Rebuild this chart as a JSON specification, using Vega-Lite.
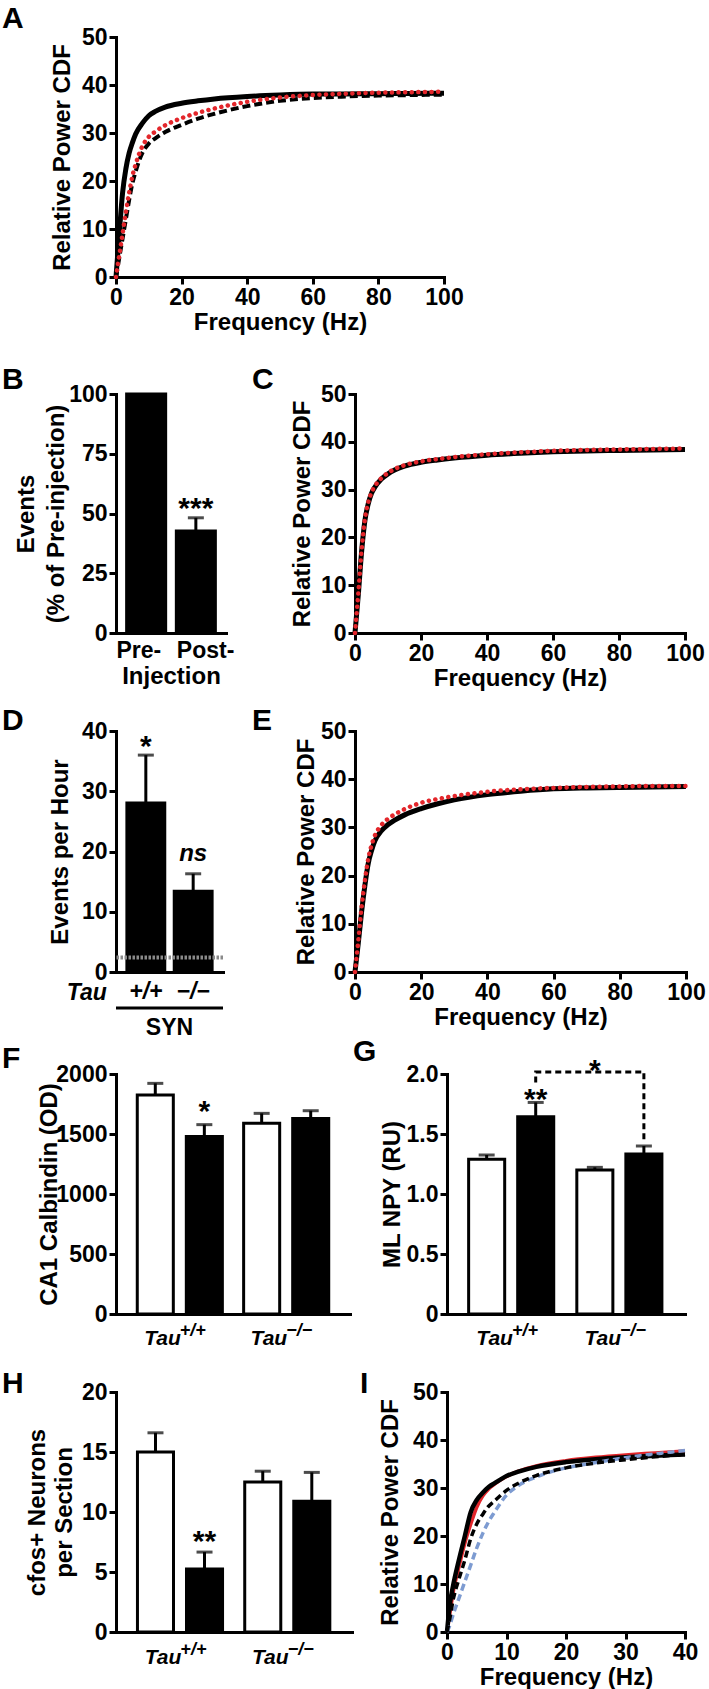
{
  "$schema": "https://vega.github.io/schema/vega-lite/v6.json",
  "background": "white",
  "padding": {"left": 2, "top": 4, "right": 2, "bottom": 2},
  "config": {
    "view": {"stroke": null},
    "font": "Liberation Sans",
    "axis": {"labelFont": "Liberation Sans", "labelFontWeight": "bold", "labelFontSize": 23, "labelColor": "black", "titleFont": "Liberation Sans", "titleFontWeight": "bold", "titleFontSize": 24, "titleColor": "black", "domainColor": "black", "domainWidth": 3, "domainCap": "square", "tickColor": "black", "tickWidth": 3, "tickSize": 7, "grid": false, "labelPadding": 2, "labelFlush": false, "labelOverlap": false},
    "title": {"anchor": "start", "frame": "group", "font": "Liberation Sans", "fontSize": 30, "fontWeight": "bold", "color": "black", "offset": 0, "baseline": "alphabetic"},
    "text": {"font": "Liberation Sans", "fontWeight": "bold", "color": "black"}
  },
  "datasets": {
    "cdfA": [
      {"s":"solid","f":0,"v":0},{"s":"solid","f":1,"v":9},{"s":"solid","f":2,"v":17.5},{"s":"solid","f":3,"v":22.5},{"s":"solid","f":4,"v":25.8},{"s":"solid","f":5,"v":28},{"s":"solid","f":6,"v":29.8},{"s":"solid","f":8,"v":32},{"s":"solid","f":10,"v":33.6},{"s":"solid","f":12,"v":34.5},{"s":"solid","f":15,"v":35.4},{"s":"solid","f":20,"v":36.2},{"s":"solid","f":25,"v":36.7},{"s":"solid","f":30,"v":37.1},{"s":"solid","f":40,"v":37.6},{"s":"solid","f":50,"v":37.9},{"s":"solid","f":60,"v":38.1},{"s":"solid","f":70,"v":38.15},{"s":"solid","f":80,"v":38.2},{"s":"solid","f":90,"v":38.25},{"s":"solid","f":100,"v":38.3},
      {"s":"dashed","f":0,"v":0},{"s":"dashed","f":1,"v":4},{"s":"dashed","f":2,"v":8},{"s":"dashed","f":3,"v":12},{"s":"dashed","f":4,"v":16},{"s":"dashed","f":5,"v":19.5},{"s":"dashed","f":6,"v":22},{"s":"dashed","f":8,"v":25.8},{"s":"dashed","f":10,"v":27.8},{"s":"dashed","f":12,"v":28.9},{"s":"dashed","f":15,"v":30.2},{"s":"dashed","f":20,"v":31.7},{"s":"dashed","f":25,"v":33},{"s":"dashed","f":30,"v":34},{"s":"dashed","f":40,"v":35.6},{"s":"dashed","f":50,"v":36.7},{"s":"dashed","f":60,"v":37.3},{"s":"dashed","f":70,"v":37.6},{"s":"dashed","f":80,"v":37.8},{"s":"dashed","f":90,"v":37.9},{"s":"dashed","f":100,"v":38},
      {"s":"dotted","f":0,"v":0},{"s":"dotted","f":1,"v":4.5},{"s":"dotted","f":2,"v":9},{"s":"dotted","f":3,"v":13.5},{"s":"dotted","f":4,"v":17.5},{"s":"dotted","f":5,"v":21},{"s":"dotted","f":6,"v":23.5},{"s":"dotted","f":8,"v":27.2},{"s":"dotted","f":10,"v":29.2},{"s":"dotted","f":12,"v":30.3},{"s":"dotted","f":15,"v":31.6},{"s":"dotted","f":20,"v":33.1},{"s":"dotted","f":25,"v":34.2},{"s":"dotted","f":30,"v":35.1},{"s":"dotted","f":40,"v":36.5},{"s":"dotted","f":50,"v":37.4},{"s":"dotted","f":60,"v":37.9},{"s":"dotted","f":70,"v":38.2},{"s":"dotted","f":80,"v":38.4},{"s":"dotted","f":90,"v":38.5},{"s":"dotted","f":100,"v":38.6}
    ],
    "cdfC": [
      {"s":"solid","f":0,"v":0},{"s":"solid","f":1,"v":8},{"s":"solid","f":2,"v":17},{"s":"solid","f":3,"v":23.5},{"s":"solid","f":4,"v":27},{"s":"solid","f":5,"v":29.2},{"s":"solid","f":6,"v":30.5},{"s":"solid","f":8,"v":32.2},{"s":"solid","f":10,"v":33.3},{"s":"solid","f":12,"v":34.1},{"s":"solid","f":15,"v":34.9},{"s":"solid","f":20,"v":35.7},{"s":"solid","f":25,"v":36.2},{"s":"solid","f":30,"v":36.6},{"s":"solid","f":40,"v":37.2},{"s":"solid","f":50,"v":37.6},{"s":"solid","f":60,"v":37.9},{"s":"solid","f":70,"v":38.1},{"s":"solid","f":80,"v":38.2},{"s":"solid","f":90,"v":38.3},{"s":"solid","f":100,"v":38.4},
      {"s":"dotted","f":0,"v":0},{"s":"dotted","f":1,"v":8.3},{"s":"dotted","f":2,"v":17.3},{"s":"dotted","f":3,"v":23.8},{"s":"dotted","f":4,"v":27.3},{"s":"dotted","f":5,"v":29.4},{"s":"dotted","f":6,"v":30.7},{"s":"dotted","f":8,"v":32.4},{"s":"dotted","f":10,"v":33.5},{"s":"dotted","f":12,"v":34.3},{"s":"dotted","f":15,"v":35.1},{"s":"dotted","f":20,"v":35.9},{"s":"dotted","f":25,"v":36.4},{"s":"dotted","f":30,"v":36.8},{"s":"dotted","f":40,"v":37.4},{"s":"dotted","f":50,"v":37.8},{"s":"dotted","f":60,"v":38.1},{"s":"dotted","f":70,"v":38.3},{"s":"dotted","f":80,"v":38.4},{"s":"dotted","f":90,"v":38.5},{"s":"dotted","f":100,"v":38.6}
    ],
    "cdfE": [
      {"s":"solid","f":0,"v":0},{"s":"solid","f":1,"v":6},{"s":"solid","f":2,"v":12.5},{"s":"solid","f":3,"v":18},{"s":"solid","f":4,"v":22.5},{"s":"solid","f":5,"v":25.2},{"s":"solid","f":6,"v":27.2},{"s":"solid","f":8,"v":29.3},{"s":"solid","f":10,"v":30.6},{"s":"solid","f":12,"v":31.5},{"s":"solid","f":15,"v":32.6},{"s":"solid","f":20,"v":33.9},{"s":"solid","f":25,"v":34.9},{"s":"solid","f":30,"v":35.7},{"s":"solid","f":40,"v":36.8},{"s":"solid","f":50,"v":37.5},{"s":"solid","f":60,"v":38},{"s":"solid","f":70,"v":38.2},{"s":"solid","f":80,"v":38.3},{"s":"solid","f":90,"v":38.4},{"s":"solid","f":100,"v":38.5},
      {"s":"dotted","f":0,"v":0},{"s":"dotted","f":1,"v":6.5},{"s":"dotted","f":2,"v":13.5},{"s":"dotted","f":3,"v":19},{"s":"dotted","f":4,"v":23.5},{"s":"dotted","f":5,"v":26.3},{"s":"dotted","f":6,"v":28.3},{"s":"dotted","f":8,"v":30.5},{"s":"dotted","f":10,"v":31.8},{"s":"dotted","f":12,"v":32.7},{"s":"dotted","f":15,"v":33.8},{"s":"dotted","f":20,"v":35.1},{"s":"dotted","f":25,"v":35.9},{"s":"dotted","f":30,"v":36.5},{"s":"dotted","f":40,"v":37.4},{"s":"dotted","f":50,"v":37.9},{"s":"dotted","f":60,"v":38.2},{"s":"dotted","f":70,"v":38.4},{"s":"dotted","f":80,"v":38.5},{"s":"dotted","f":90,"v":38.6},{"s":"dotted","f":100,"v":38.6}
    ],
    "cdfI": [
      {"s":"black","f":0,"v":0},{"s":"black","f":0.5,"v":6},{"s":"black","f":1,"v":9.5},{"s":"black","f":2,"v":15},{"s":"black","f":3,"v":20},{"s":"black","f":4,"v":25},{"s":"black","f":5,"v":27.5},{"s":"black","f":6,"v":29},{"s":"black","f":7,"v":30.2},{"s":"black","f":8,"v":31},{"s":"black","f":10,"v":32.5},{"s":"black","f":12,"v":33.4},{"s":"black","f":15,"v":34.4},{"s":"black","f":20,"v":35.4},{"s":"black","f":25,"v":36},{"s":"black","f":30,"v":36.4},{"s":"black","f":35,"v":36.7},{"s":"black","f":40,"v":37},
      {"s":"red","f":0,"v":0},{"s":"red","f":0.5,"v":4},{"s":"red","f":1,"v":8},{"s":"red","f":2,"v":13.5},{"s":"red","f":3,"v":18.5},{"s":"red","f":4,"v":22.5},{"s":"red","f":5,"v":26},{"s":"red","f":6,"v":28.3},{"s":"red","f":7,"v":29.8},{"s":"red","f":8,"v":30.8},{"s":"red","f":10,"v":32.4},{"s":"red","f":12,"v":33.5},{"s":"red","f":15,"v":34.6},{"s":"red","f":20,"v":35.7},{"s":"red","f":25,"v":36.4},{"s":"red","f":30,"v":36.9},{"s":"red","f":35,"v":37.3},{"s":"red","f":40,"v":37.7},
      {"s":"blackdash","f":0,"v":0},{"s":"blackdash","f":0.5,"v":3},{"s":"blackdash","f":1,"v":6.5},{"s":"blackdash","f":2,"v":11},{"s":"blackdash","f":3,"v":15},{"s":"blackdash","f":4,"v":19.5},{"s":"blackdash","f":5,"v":22.5},{"s":"blackdash","f":6,"v":24.5},{"s":"blackdash","f":7,"v":26.2},{"s":"blackdash","f":8,"v":27.3},{"s":"blackdash","f":10,"v":29.5},{"s":"blackdash","f":12,"v":31},{"s":"blackdash","f":15,"v":32.6},{"s":"blackdash","f":20,"v":34.2},{"s":"blackdash","f":25,"v":35.2},{"s":"blackdash","f":30,"v":35.9},{"s":"blackdash","f":35,"v":36.5},{"s":"blackdash","f":40,"v":37},
      {"s":"bluedash","f":0,"v":0},{"s":"bluedash","f":0.5,"v":1.5},{"s":"bluedash","f":1,"v":3.5},{"s":"bluedash","f":2,"v":7},{"s":"bluedash","f":3,"v":10.5},{"s":"bluedash","f":4,"v":14},{"s":"bluedash","f":5,"v":17.5},{"s":"bluedash","f":6,"v":20.5},{"s":"bluedash","f":7,"v":23},{"s":"bluedash","f":8,"v":25},{"s":"bluedash","f":10,"v":28.5},{"s":"bluedash","f":12,"v":30.5},{"s":"bluedash","f":15,"v":32.3},{"s":"bluedash","f":20,"v":34.2},{"s":"bluedash","f":25,"v":35.3},{"s":"bluedash","f":30,"v":36.3},{"s":"bluedash","f":35,"v":37.1},{"s":"bluedash","f":40,"v":37.8}
    ],
    "barB": [{"c":"Pre-","v":100,"hi":100,"lab":""},{"c":"Post-","v":42.7,"hi":48.2,"lab":"***"}],
    "barD": [{"g":"+/+","v":28.07,"hi":36.0},{"g":"−/−","v":13.4,"hi":16.3}],
    "barF": [
      {"geno":"+/+","trt":"Veh","v":1825,"hi":1922,"lab":""},
      {"geno":"+/+","trt":"SYN","v":1480,"hi":1578,"lab":"*"},
      {"geno":"−/−","trt":"Veh","v":1589,"hi":1672,"lab":""},
      {"geno":"−/−","trt":"SYN","v":1630,"hi":1694,"lab":""}
    ],
    "barG": [
      {"geno":"+/+","trt":"Veh","v":1.29,"hi":1.325,"lab":""},
      {"geno":"+/+","trt":"SYN","v":1.644,"hi":1.763,"lab":"**"},
      {"geno":"−/−","trt":"Veh","v":1.2,"hi":1.222,"lab":""},
      {"geno":"−/−","trt":"SYN","v":1.333,"hi":1.4,"lab":""}
    ],
    "bracketG": [
      {"geno":"+/+","trt":"SYN","v":1.93,"o":1},
      {"geno":"+/+","trt":"SYN","v":2.017,"o":2},
      {"geno":"−/−","trt":"SYN","v":2.017,"o":3},
      {"geno":"−/−","trt":"SYN","v":1.44,"o":4}
    ],
    "starG": [{"geno":"−/−","trt":"Veh","v":2.017,"lab":"*"}],
    "barH": [
      {"geno":"+/+","trt":"Veh","v":15.0,"hi":16.6,"lab":""},
      {"geno":"+/+","trt":"SYN","v":5.25,"hi":6.66,"lab":"**"},
      {"geno":"−/−","trt":"Veh","v":12.5,"hi":13.4,"lab":""},
      {"geno":"−/−","trt":"SYN","v":10.9,"hi":13.3,"lab":""}
    ],
    "groups": [{"geno":"+/+","main":"Tau","sup":"+/+"},{"geno":"−/−","main":"Tau","sup":"−/−"}]
  },
  "bounds": "flush",
  "spacing": 117,
  "vconcat": [
    {
      "width": 328, "height": 240,
      "title": {"text": "A", "dx": -114, "dy": 12},
      "data": {"name": "cdfA"},
      "encoding": {
        "x": {"field": "f", "type": "quantitative", "scale": {"domain": [0, 100], "nice": false}, "axis": {"values": [0, 20, 40, 60, 80, 100], "title": "Frequency (Hz)", "titlePadding": 1}},
        "y": {"field": "v", "type": "quantitative", "scale": {"domain": [0, 50], "nice": false}, "axis": {"values": [0, 10, 20, 30, 40, 50], "title": "Relative Power CDF", "titlePadding": 7}}
      },
      "layer": [
        {"transform": [{"filter": "datum.s === 'dashed'"}], "mark": {"type": "line", "color": "black", "strokeWidth": 4, "strokeDash": [8, 4], "interpolate": "monotone"}},
        {"transform": [{"filter": "datum.s === 'solid'"}], "mark": {"type": "line", "color": "black", "strokeWidth": 5, "interpolate": "monotone"}},
        {"transform": [{"filter": "datum.s === 'dotted'"}], "mark": {"type": "line", "color": "#e3262b", "strokeWidth": 4.5, "strokeDash": [0.1, 6.5], "strokeCap": "round", "interpolate": "monotone"}}
      ]
    },
    {
      "columns": 3,
      "bounds": "flush",
      "align": "each",
      "spacing": 0,
      "concat": [
        {
          "width": 110, "height": 239,
          "title": {"text": "B", "dx": -114, "dy": 16},
          "data": {"name": "barB"},
          "encoding": {
            "x": {"field": "c", "type": "nominal", "sort": ["Pre-", "Post-"], "scale": {"paddingInner": 0.215, "paddingOuter": 0.214}, "axis": {"title": "Injection", "ticks": false, "labelAngle": 0, "labelPadding": 6, "titlePadding": 2, "labelAlign": {"condition": {"test": "datum.value === 'Pre-'", "value": "right"}, "value": "left"}, "labelOffset": {"condition": {"test": "datum.value === 'Pre-'", "value": 15}, "value": -19}}},
            "y": {"field": "v", "type": "quantitative", "scale": {"domain": [0, 100], "nice": false}, "axis": {"values": [0, 25, 50, 75, 100], "title": ["Events", "(% of Pre-injection)"], "titleLineHeight": 30, "titlePadding": 0}}
          },
          "layer": [
            {"mark": {"type": "bar", "color": "black", "stroke": "black", "strokeWidth": 3}},
            {"transform": [{"filter": "datum.hi > datum.v"}], "mark": {"type": "rule", "color": "black", "strokeWidth": 3}, "encoding": {"y2": {"field": "hi"}}},
            {"transform": [{"filter": "datum.hi > datum.v"}], "mark": {"type": "tick", "orient": "horizontal", "size": 16, "thickness": 3, "color": "black"}, "encoding": {"y": {"field": "hi", "type": "quantitative"}}},
            {"transform": [{"filter": "datum.lab !== ''"}], "mark": {"type": "text", "fontSize": 30, "baseline": "alphabetic", "dy": 0}, "encoding": {"y": {"field": "hi", "type": "quantitative"}, "text": {"field": "lab"}}}
          ]
        },
        {"width": 129, "height": 1, "data": {"values": []}, "mark": "point"},
        {
          "width": 330, "height": 239,
          "title": {"text": "C", "dx": -103, "dy": 16},
          "data": {"name": "cdfC"},
          "encoding": {
            "x": {"field": "f", "type": "quantitative", "scale": {"domain": [0, 100], "nice": false}, "axis": {"values": [0, 20, 40, 60, 80, 100], "title": "Frequency (Hz)", "titlePadding": 1}},
            "y": {"field": "v", "type": "quantitative", "scale": {"domain": [0, 50], "nice": false}, "axis": {"values": [0, 10, 20, 30, 40, 50], "title": "Relative Power CDF", "titlePadding": 6}}
          },
          "layer": [
            {"transform": [{"filter": "datum.s === 'solid'"}], "mark": {"type": "line", "color": "black", "strokeWidth": 5, "interpolate": "monotone"}},
            {"transform": [{"filter": "datum.s === 'dotted'"}], "mark": {"type": "line", "color": "#e3262b", "strokeWidth": 4.5, "strokeDash": [0.1, 6.5], "strokeCap": "round", "interpolate": "monotone"}}
          ]
        },
        {"width": 1, "height": 98, "data": {"values": []}, "mark": "point"},
        {"width": 1, "height": 1, "data": {"values": []}, "mark": "point"},
        {"width": 1, "height": 1, "data": {"values": []}, "mark": "point"},
        {
          "width": 107, "height": 241,
          "title": {"text": "D", "dx": -114, "dy": 20},
          "data": {"name": "barD"},
          "layer": [
            {"mark": {"type": "bar", "color": "black", "stroke": "black", "strokeWidth": 3},
             "encoding": {
               "x": {"field": "g", "type": "nominal", "sort": ["+/+", "−/−"], "scale": {"paddingInner": 0.2, "paddingOuter": 0.23}, "axis": {"title": null, "ticks": false, "labelAngle": 0, "labelFontStyle": "italic", "labelPadding": 8}},
               "y": {"field": "v", "type": "quantitative", "scale": {"domain": [0, 40], "nice": false}, "axis": {"values": [0, 10, 20, 30, 40], "title": "Events per Hour", "titlePadding": 9}}
             }},
            {"mark": {"type": "rule", "color": "black", "strokeWidth": 3},
             "encoding": {"x": {"field": "g", "type": "nominal", "sort": ["+/+", "−/−"]}, "y": {"field": "v", "type": "quantitative"}, "y2": {"field": "hi"}}},
            {"mark": {"type": "tick", "orient": "horizontal", "size": 16, "thickness": 3, "color": "black"},
             "encoding": {"x": {"field": "g", "type": "nominal", "sort": ["+/+", "−/−"]}, "y": {"field": "hi", "type": "quantitative"}}},
            {"transform": [{"filter": "datum.g === '+/+'"}], "mark": {"type": "rule", "color": "#8a8a8a", "strokeWidth": 4, "strokeDash": [2.5, 1.5]},
             "encoding": {"y": {"datum": 2.4}}},
            {"transform": [{"filter": "datum.g === '+/+'"}], "mark": {"type": "text", "text": "*", "fontSize": 30, "baseline": "alphabetic", "dy": 1},
             "encoding": {"x": {"field": "g", "type": "nominal", "sort": ["+/+", "−/−"]}, "y": {"field": "hi", "type": "quantitative"}}},
            {"transform": [{"filter": "datum.g === '−/−'"}], "mark": {"type": "text", "text": "ns", "fontSize": 24, "fontStyle": "italic", "baseline": "alphabetic", "dy": -13},
             "encoding": {"x": {"field": "g", "type": "nominal", "sort": ["+/+", "−/−"]}, "y": {"field": "hi", "type": "quantitative"}}},
            {"transform": [{"filter": "datum.g === '+/+'"}], "mark": {"type": "text", "text": "Tau", "fontSize": 23, "fontStyle": "italic", "align": "right", "baseline": "alphabetic", "dx": -39},
             "encoding": {"x": {"field": "g", "type": "nominal", "sort": ["+/+", "−/−"]}, "y": {"datum": -4.7}}},
            {"transform": [{"filter": "datum.g === '+/+'"}], "mark": {"type": "rule", "color": "black", "strokeWidth": 3},
             "encoding": {"y": {"datum": -5.97}}},
            {"transform": [{"filter": "datum.g === '+/+'"}], "mark": {"type": "text", "text": "SYN", "fontSize": 23, "baseline": "alphabetic"},
             "encoding": {"y": {"datum": -10.4}}}
          ]
        },
        {"width": 129, "height": 1, "data": {"values": []}, "mark": "point"},
        {
          "width": 331, "height": 241,
          "title": {"text": "E", "dx": -103, "dy": 20},
          "data": {"name": "cdfE"},
          "encoding": {
            "x": {"field": "f", "type": "quantitative", "scale": {"domain": [0, 100], "nice": false}, "axis": {"values": [0, 20, 40, 60, 80, 100], "title": "Frequency (Hz)", "titlePadding": 1}},
            "y": {"field": "v", "type": "quantitative", "scale": {"domain": [0, 50], "nice": false}, "axis": {"values": [0, 10, 20, 30, 40, 50], "title": "Relative Power CDF", "titlePadding": 2}}
          },
          "layer": [
            {"transform": [{"filter": "datum.s === 'solid'"}], "mark": {"type": "line", "color": "black", "strokeWidth": 5, "interpolate": "monotone"}},
            {"transform": [{"filter": "datum.s === 'dotted'"}], "mark": {"type": "line", "color": "#e3262b", "strokeWidth": 4.5, "strokeDash": [0.1, 6.5], "strokeCap": "round", "interpolate": "monotone"}}
          ]
        }
      ]
    },
    {"width": 1, "height": 446, "data": {"values": []}, "mark": "point"},
    {
      "columns": 3,
      "bounds": "flush",
      "align": "each",
      "spacing": 0,
      "concat": [
        {
          "width": 234, "height": 240,
          "title": {"text": "F", "dx": -114, "dy": 15},
          "layer": [
            {"data": {"name": "barF"}, "mark": {"type": "bar", "stroke": "black", "strokeWidth": 3},
             "encoding": {
               "x": {"field": "geno", "type": "nominal", "sort": ["+/+", "−/−"], "scale": {"paddingInner": 0.2, "paddingOuter": 0.2}, "axis": {"title": null, "labels": false, "ticks": false}},
               "xOffset": {"field": "trt", "type": "nominal", "sort": ["Veh", "SYN"], "scale": {"paddingInner": 0.265, "paddingOuter": 0}},
               "y": {"field": "v", "type": "quantitative", "scale": {"domain": [0, 2000], "nice": false}, "axis": {"values": [0, 500, 1000, 1500, 2000], "format": "d", "title": "CA1 Calbindin (OD)", "titlePadding": -6}},
               "fill": {"field": "trt", "type": "nominal", "scale": {"domain": ["Veh", "SYN"], "range": ["white", "black"]}, "legend": null}
             }},
            {"data": {"name": "barF"}, "mark": {"type": "rule", "color": "black", "strokeWidth": 3},
             "encoding": {"x": {"field": "geno", "type": "nominal", "sort": ["+/+", "−/−"]}, "xOffset": {"field": "trt", "type": "nominal", "sort": ["Veh", "SYN"]}, "y": {"field": "v", "type": "quantitative"}, "y2": {"field": "hi"}}},
            {"data": {"name": "barF"}, "mark": {"type": "tick", "orient": "horizontal", "size": 16, "thickness": 3, "color": "black"},
             "encoding": {"x": {"field": "geno", "type": "nominal", "sort": ["+/+", "−/−"]}, "xOffset": {"field": "trt", "type": "nominal", "sort": ["Veh", "SYN"]}, "y": {"field": "hi", "type": "quantitative"}}},
            {"data": {"name": "barF"}, "transform": [{"filter": "datum.lab !== ''"}], "mark": {"type": "text", "fontSize": 30, "baseline": "alphabetic", "dy": -4},
             "encoding": {"x": {"field": "geno", "type": "nominal", "sort": ["+/+", "−/−"]}, "xOffset": {"field": "trt", "type": "nominal", "sort": ["Veh", "SYN"]}, "y": {"field": "hi", "type": "quantitative"}, "text": {"field": "lab"}}},
            {"data": {"name": "groups"}, "mark": {"type": "text", "fontSize": 21, "fontStyle": "italic", "align": "right", "baseline": "alphabetic", "dx": 1},
             "encoding": {"x": {"field": "geno", "type": "nominal", "sort": ["+/+", "−/−"]}, "y": {"datum": -258}, "text": {"field": "main"}}},
            {"data": {"name": "groups"}, "mark": {"type": "text", "fontSize": 18, "fontStyle": "italic", "align": "left", "baseline": "alphabetic", "dx": 0, "dy": -9},
             "encoding": {"x": {"field": "geno", "type": "nominal", "sort": ["+/+", "−/−"]}, "y": {"datum": -258}, "text": {"field": "sup"}}}
          ]
        },
        {"width": 95, "height": 1, "data": {"values": []}, "mark": "point"},
        {
          "width": 238, "height": 240,
          "title": {"text": "G", "dx": -94, "dy": 15},
          "layer": [
            {"data": {"name": "barG"}, "mark": {"type": "bar", "stroke": "black", "strokeWidth": 3},
             "encoding": {
               "x": {"field": "geno", "type": "nominal", "sort": ["+/+", "−/−"], "scale": {"paddingInner": 0.2, "paddingOuter": 0.2}, "axis": {"title": null, "labels": false, "ticks": false}},
               "xOffset": {"field": "trt", "type": "nominal", "sort": ["Veh", "SYN"], "scale": {"paddingInner": 0.265, "paddingOuter": 0}},
               "y": {"field": "v", "type": "quantitative", "scale": {"domain": [0, 2], "nice": false}, "axis": {"values": [0, 0.5, 1, 1.5, 2], "labelExpr": "datum.value === 0 ? '0' : format(datum.value, '.1f')", "title": "ML NPY (RU)", "titlePadding": 2}},
               "fill": {"field": "trt", "type": "nominal", "scale": {"domain": ["Veh", "SYN"], "range": ["white", "black"]}, "legend": null}
             }},
            {"data": {"name": "barG"}, "mark": {"type": "rule", "color": "black", "strokeWidth": 3},
             "encoding": {"x": {"field": "geno", "type": "nominal", "sort": ["+/+", "−/−"]}, "xOffset": {"field": "trt", "type": "nominal", "sort": ["Veh", "SYN"]}, "y": {"field": "v", "type": "quantitative"}, "y2": {"field": "hi"}}},
            {"data": {"name": "barG"}, "mark": {"type": "tick", "orient": "horizontal", "size": 16, "thickness": 3, "color": "black"},
             "encoding": {"x": {"field": "geno", "type": "nominal", "sort": ["+/+", "−/−"]}, "xOffset": {"field": "trt", "type": "nominal", "sort": ["Veh", "SYN"]}, "y": {"field": "hi", "type": "quantitative"}}},
            {"data": {"name": "barG"}, "transform": [{"filter": "datum.lab !== ''"}], "mark": {"type": "text", "fontSize": 30, "baseline": "alphabetic", "dy": 7},
             "encoding": {"x": {"field": "geno", "type": "nominal", "sort": ["+/+", "−/−"]}, "xOffset": {"field": "trt", "type": "nominal", "sort": ["Veh", "SYN"]}, "y": {"field": "hi", "type": "quantitative"}, "text": {"field": "lab"}}},
            {"data": {"name": "bracketG"}, "mark": {"type": "line", "color": "black", "strokeWidth": 3, "strokeDash": [6, 4]},
             "encoding": {"x": {"field": "geno", "type": "nominal", "sort": ["+/+", "−/−"]}, "xOffset": {"field": "trt", "type": "nominal", "sort": ["Veh", "SYN"]}, "y": {"field": "v", "type": "quantitative"}, "order": {"field": "o"}}},
            {"data": {"name": "starG"}, "mark": {"type": "text", "fontSize": 30, "baseline": "alphabetic", "dy": 8},
             "encoding": {"x": {"field": "geno", "type": "nominal", "sort": ["+/+", "−/−"]}, "xOffset": {"field": "trt", "type": "nominal", "sort": ["Veh", "SYN"]}, "y": {"field": "v", "type": "quantitative"}, "text": {"field": "lab"}}},
            {"data": {"name": "groups"}, "mark": {"type": "text", "fontSize": 21, "fontStyle": "italic", "align": "right", "baseline": "alphabetic", "dx": 1},
             "encoding": {"x": {"field": "geno", "type": "nominal", "sort": ["+/+", "−/−"]}, "y": {"datum": -0.258}, "text": {"field": "main"}}},
            {"data": {"name": "groups"}, "mark": {"type": "text", "fontSize": 18, "fontStyle": "italic", "align": "left", "baseline": "alphabetic", "dx": 0, "dy": -9},
             "encoding": {"x": {"field": "geno", "type": "nominal", "sort": ["+/+", "−/−"]}, "y": {"datum": -0.258}, "text": {"field": "sup"}}}
          ]
        },
        {"width": 1, "height": 78, "data": {"values": []}, "mark": "point"},
        {"width": 1, "height": 1, "data": {"values": []}, "mark": "point"},
        {"width": 1, "height": 1, "data": {"values": []}, "mark": "point"},
        {
          "width": 236, "height": 240,
          "title": {"text": "H", "dx": -114, "dy": 22},
          "layer": [
            {"data": {"name": "barH"}, "mark": {"type": "bar", "stroke": "black", "strokeWidth": 3},
             "encoding": {
               "x": {"field": "geno", "type": "nominal", "sort": ["+/+", "−/−"], "scale": {"paddingInner": 0.2, "paddingOuter": 0.2}, "axis": {"title": null, "labels": false, "ticks": false}},
               "xOffset": {"field": "trt", "type": "nominal", "sort": ["Veh", "SYN"], "scale": {"paddingInner": 0.265, "paddingOuter": 0}},
               "y": {"field": "v", "type": "quantitative", "scale": {"domain": [0, 20], "nice": false}, "axis": {"values": [0, 5, 10, 15, 20], "title": ["cfos+ Neurons", "per Section"], "titleLineHeight": 27, "titlePadding": 5}},
               "fill": {"field": "trt", "type": "nominal", "scale": {"domain": ["Veh", "SYN"], "range": ["white", "black"]}, "legend": null}
             }},
            {"data": {"name": "barH"}, "mark": {"type": "rule", "color": "black", "strokeWidth": 3},
             "encoding": {"x": {"field": "geno", "type": "nominal", "sort": ["+/+", "−/−"]}, "xOffset": {"field": "trt", "type": "nominal", "sort": ["Veh", "SYN"]}, "y": {"field": "v", "type": "quantitative"}, "y2": {"field": "hi"}}},
            {"data": {"name": "barH"}, "mark": {"type": "tick", "orient": "horizontal", "size": 16, "thickness": 3, "color": "black"},
             "encoding": {"x": {"field": "geno", "type": "nominal", "sort": ["+/+", "−/−"]}, "xOffset": {"field": "trt", "type": "nominal", "sort": ["Veh", "SYN"]}, "y": {"field": "hi", "type": "quantitative"}}},
            {"data": {"name": "barH"}, "transform": [{"filter": "datum.lab !== ''"}], "mark": {"type": "text", "fontSize": 30, "baseline": "alphabetic", "dy": -1},
             "encoding": {"x": {"field": "geno", "type": "nominal", "sort": ["+/+", "−/−"]}, "xOffset": {"field": "trt", "type": "nominal", "sort": ["Veh", "SYN"]}, "y": {"field": "hi", "type": "quantitative"}, "text": {"field": "lab"}}},
            {"data": {"name": "groups"}, "mark": {"type": "text", "fontSize": 21, "fontStyle": "italic", "align": "right", "baseline": "alphabetic", "dx": 1},
             "encoding": {"x": {"field": "geno", "type": "nominal", "sort": ["+/+", "−/−"]}, "y": {"datum": -2.67}, "text": {"field": "main"}}},
            {"data": {"name": "groups"}, "mark": {"type": "text", "fontSize": 18, "fontStyle": "italic", "align": "left", "baseline": "alphabetic", "dx": 0, "dy": -9},
             "encoding": {"x": {"field": "geno", "type": "nominal", "sort": ["+/+", "−/−"]}, "y": {"datum": -2.67}, "text": {"field": "sup"}}}
          ]
        },
        {"width": 95, "height": 1, "data": {"values": []}, "mark": "point"},
        {
          "width": 238, "height": 240,
          "title": {"text": "I", "dx": -87, "dy": 22},
          "data": {"name": "cdfI"},
          "encoding": {
            "x": {"field": "f", "type": "quantitative", "scale": {"domain": [0, 40], "nice": false}, "axis": {"values": [0, 10, 20, 30, 40], "title": "Frequency (Hz)", "titlePadding": 1}},
            "y": {"field": "v", "type": "quantitative", "scale": {"domain": [0, 50], "nice": false}, "axis": {"values": [0, 10, 20, 30, 40, 50], "title": "Relative Power CDF", "titlePadding": 10}}
          },
          "layer": [
            {"transform": [{"filter": "datum.s === 'red'"}], "mark": {"type": "line", "color": "#e3262b", "strokeWidth": 3.5, "interpolate": "monotone"}},
            {"transform": [{"filter": "datum.s === 'black'"}], "mark": {"type": "line", "color": "black", "strokeWidth": 4.5, "interpolate": "monotone"}},
            {"transform": [{"filter": "datum.s === 'bluedash'"}], "mark": {"type": "line", "color": "#7d9bd1", "strokeWidth": 3.5, "strokeDash": [7, 4], "interpolate": "monotone"}},
            {"transform": [{"filter": "datum.s === 'blackdash'"}], "mark": {"type": "line", "color": "black", "strokeWidth": 3.5, "strokeDash": [7, 4], "interpolate": "monotone"}}
          ]
        }
      ]
    }
  ]
}
